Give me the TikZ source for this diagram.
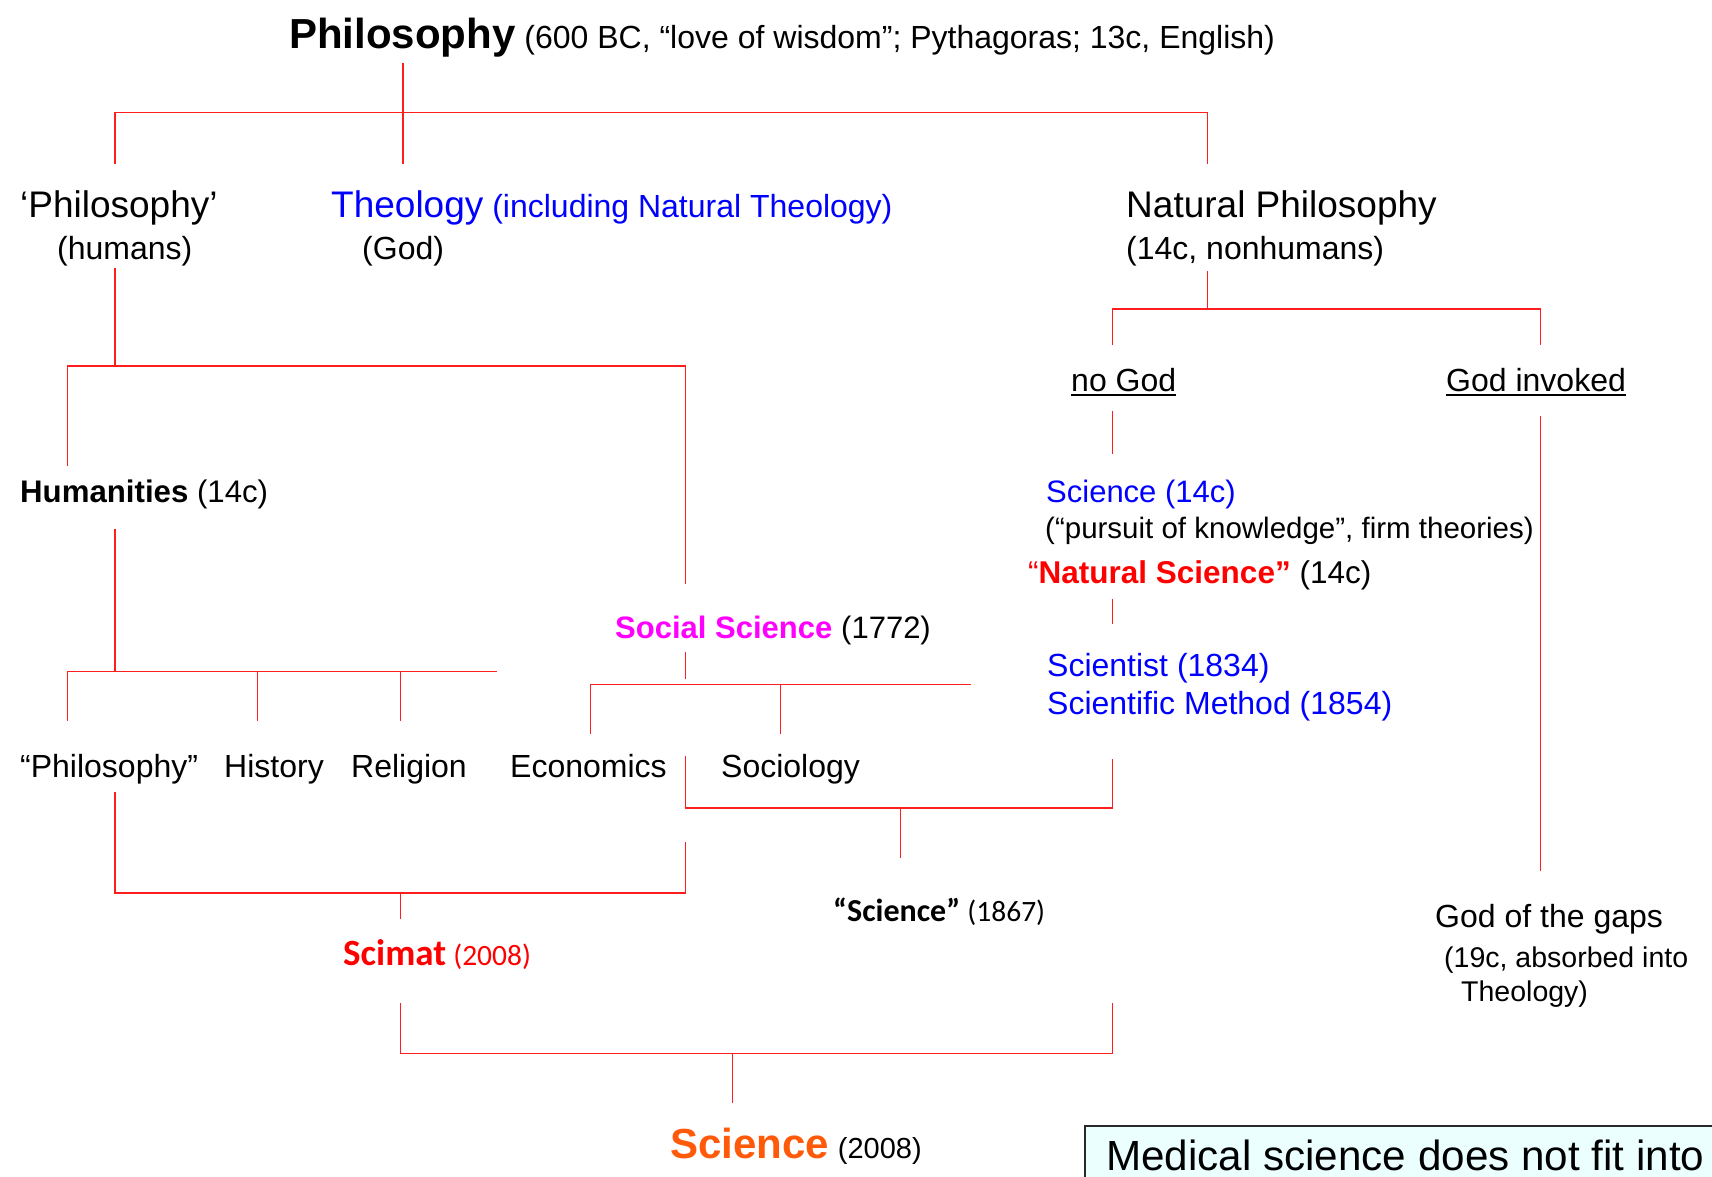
\documentclass[tikz,border=0pt]{standalone}
\usepackage{fontspec}
\setmainfont{Liberation Sans}
\newfontfamily\carlito{Carlito}
\newcommand{\fs}[1]{\fontsize{#1}{#1}\selectfont}
\definecolor{lnred}{RGB}{255,30,30}
\definecolor{tblue}{RGB}{0,0,255}
\definecolor{tmag}{RGB}{255,0,255}
\definecolor{tred}{RGB}{255,0,0}
\definecolor{torange}{RGB}{255,90,10}
\definecolor{boxfill}{RGB}{235,255,255}
\definecolor{boxline}{RGB}{40,40,40}
\tikzset{
  txt/.style={anchor=base west, inner sep=0pt, font=\fs{32}},
  ln/.style={draw=lnred, line width=1.2pt},
  uline/.style={draw=black, line width=2pt}
}
\begin{document}
\begin{tikzpicture}[x=1pt,y=-1pt]
\useasboundingbox[fill=white] (0,0) rectangle (1712,1177);

% ---------- texts ----------
\node[txt] (title) at (289,49) {{\fs{42}\bfseries Philosophy} (600 BC, “love of wisdom”; Pythagoras; 13c, English)};

\node[txt,font=\fs{37}] (phil) at (20,218) {‘Philosophy’};
\node[txt] (humans) at (57,259) {(humans)};
\node[txt,text=tblue] (theo) at (331,218) {{\fs{37}Theology} (including Natural Theology)};
\node[txt] (god) at (362,259) {(God)};
\node[txt,font=\fs{37}] (natphil) at (1126,218) {Natural Philosophy};
\node[txt] (nonhum) at (1126,259) {(14c, nonhumans)};

\node[txt] (nogod) at (1071,391) {no God};
\node[txt] (godinv) at (1446,391) {God invoked};
\draw[uline] ([yshift=-4pt]nogod.base west) -- ([yshift=-4pt]nogod.base east);
\draw[uline] ([yshift=-4pt]godinv.base west) -- ([yshift=-4pt]godinv.base east);

\node[txt,font=\fs{31.2}] (human) at (20,502) {{\bfseries Humanities} (14c)};
\node[txt,text=tblue,font=\fs{31}] (sci14) at (1046,502) {Science (14c)};
\node[txt,font=\fs{29.5}] (pursuit) at (1045,538) {(“pursuit of knowledge”, firm theories)};
\node[txt,font=\fs{31.5}] (natsci) at (1028,583) {\textcolor{tred}{“\textbf{Natural Science”}} (14c)};
\node[txt] (socsci) at (615,638) {{\fs{31}\bfseries\color{tmag}Social Science} {\fs{31}(1772)}};
\node[txt,text=tblue] (scientist) at (1047,676) {Scientist (1834)};
\node[txt,text=tblue] (method) at (1047,714) {Scientific Method (1854)};

\node[txt] (qphil) at (20,777) {“Philosophy”};
\node[txt] (hist) at (224,777) {History};
\node[txt] (relig) at (351,777) {Religion};
\node[txt] (econ) at (510,777) {Economics};
\node[txt] (socio) at (721,777) {Sociology};

\node[txt] (sci1867) at (833,921) {\carlito{\fs{32}\bfseries “Science”} \carlito\fs{29.5}(1867)};
\node[txt,text=tred] (scimat) at (343,965) {\carlito{\fs{37}\bfseries Scimat} \carlito\fs{29.5}(2008)};

\node[txt] (gaps) at (1435,927) {God of the gaps};
\node[txt,font=\fs{28.5}] (gaps2) at (1444,967) {(19c, absorbed into};
\node[txt,font=\fs{28.5}] (gaps3) at (1461,1001) {Theology)};

\node[txt] (sci2008) at (670,1158) {{\fs{42}\bfseries\color{torange}Science} {\fs{29}(2008)}};

% medical box (cut by the page edge)
\draw[fill=boxfill, draw=boxline, line width=1.8pt] (1085,1126) rectangle (1730,1200);
\node[txt,font=\fs{42.2}] (medical) at (1106,1170) {Medical science does not fit into};

% ---------- connectors ----------
\draw[ln] (403,63) -- (403,164);
\draw[ln] (115,164) -- (115,112.5) -- (1207.5,112.5) -- (1207.5,164);
\draw[ln] (1207.5,271) -- (1207.5,309);
\draw[ln] (1112.5,345) -- (1112.5,309) -- (1540.5,309) -- (1540.5,345);
\draw[ln] (1112.5,410.5) -- (1112.5,454);
\draw[ln] (1540.5,416) -- (1540.5,870.5);
\draw[ln] (115,267.5) -- (115,366);
\draw[ln] (67.7,466) -- (67.7,366) -- (685.6,366) -- (685.6,584);
\draw[ln] (115,528.5) -- (115,671.5);
\draw[ln] (67.7,720.5) -- (67.7,671.5) -- (496.8,671.5);
\draw[ln] (257.7,671.5) -- (257.7,720.5);
\draw[ln] (400.7,671.5) -- (400.7,720.5);
\draw[ln] (685.6,651.8) -- (685.6,679);
\draw[ln] (590.7,733.7) -- (590.7,684.6) -- (970.6,684.6);
\draw[ln] (780.6,684.6) -- (780.6,733.7);
\draw[ln] (1112.5,598.5) -- (1112.5,623.5);
\draw[ln] (685.6,755.5) -- (685.6,808) -- (1112.5,808) -- (1112.5,759);
\draw[ln] (900.7,808) -- (900.7,858);
\draw[ln] (115,791.5) -- (115,893) -- (685.6,893) -- (685.6,842);
\draw[ln] (400.7,893) -- (400.7,919.3);
\draw[ln] (400.7,1003.4) -- (400.7,1053.6) -- (1112.5,1053.6) -- (1112.5,1003.4);
\draw[ln] (732.6,1053.6) -- (732.6,1102.7);
\end{tikzpicture}
\end{document}
